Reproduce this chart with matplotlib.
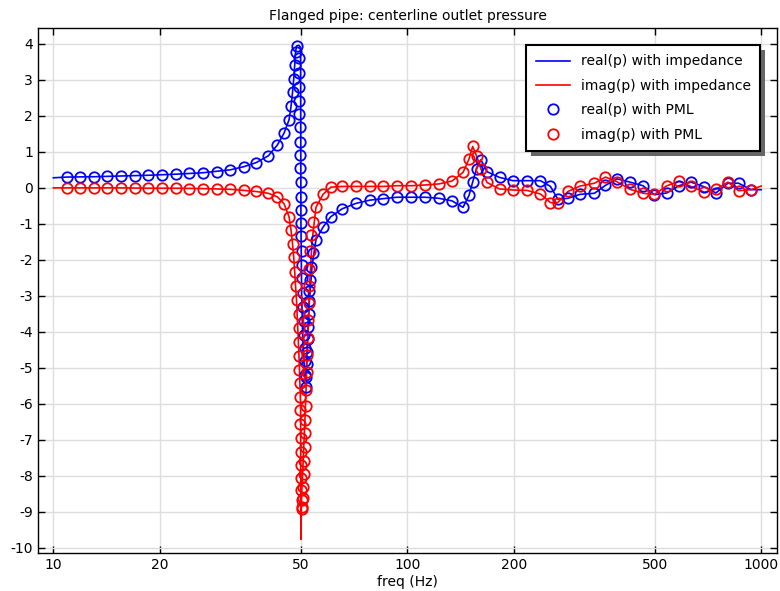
import numpy as np
import matplotlib
matplotlib.use('Agg')
import matplotlib.pyplot as plt
from matplotlib.ticker import FixedLocator, FixedFormatter, NullLocator
from matplotlib.patches import Rectangle
from matplotlib.transforms import IdentityTransform

plt.rcParams['font.family'] = ['DejaVu Sans']
plt.rcParams['axes.unicode_minus'] = False

# ---- impedance model (lines) ----
f_imp = [10, 10.91, 13.03, 15.54, 18.55, 22.17, 26.43, 31.56, 34.57, 37.38, 40.49,
         42.94, 44.85, 46.33, 46.94, 47.40, 47.77, 48.08, 48.33, 48.64, 49.4, 49.95,
         50.05, 50.3, 50.8, 51.6, 52.2, 52.9, 53.8, 55.2, 57.8, 60.8, 65.5, 71.63,
         78.45, 85.39, 93.52, 102.4, 112.2, 122.9, 133.7, 143.7, 149.4, 153.0, 156.9,
         161.5, 168.0, 182.2, 198.9, 217.8, 237.8, 253.8, 266.0, 284.4, 307.5, 338.0,
         363.0, 391.3, 425.7, 463.3, 499.3, 541.6, 585.7, 633.2, 690.2, 744.7, 805.2,
         862.9, 935.3, 1000]
re_imp = [0.28, 0.30, 0.31, 0.33, 0.35, 0.38, 0.42, 0.50, 0.59, 0.70, 0.89,
          1.19, 1.52, 1.89, 2.26, 2.65, 3.03, 3.42, 3.76, 3.94, 3.96, 3.90,
          -0.80, -3.00, -4.50, -5.52, -4.30, -3.15, -2.19, -1.44, -1.09, -0.80, -0.58, -0.43,
          -0.34, -0.30, -0.26, -0.26, -0.26, -0.29, -0.36, -0.54, -0.21, 0.16, 0.53,
          0.78, 0.45, 0.29, 0.20, 0.20, 0.20, 0.04, -0.31, -0.29, -0.18, -0.15,
          0.07, 0.25, 0.16, 0.06, -0.19, -0.14, 0.06, 0.16, 0.03, -0.14, 0.13,
          0.13, -0.05, -0.05]
im_imp = [0.00, 0.00, 0.00, 0.00, -0.01, -0.01, -0.02, -0.04, -0.07, -0.10, -0.15,
          -0.25, -0.44, -0.80, -1.17, -1.56, -1.93, -2.33, -2.72, -3.11, -4.60, -6.00,
          -9.76, -8.50, -7.60, -6.00, -4.50, -2.80, -1.50, -0.54, -0.18, 0.02, 0.04, 0.04,
          0.04, 0.04, 0.06, 0.06, 0.08, 0.11, 0.19, 0.43, 0.80, 1.15, 0.89,
          0.52, 0.15, -0.03, -0.06, -0.07, -0.17, -0.41, -0.41, -0.10, 0.05, 0.13,
          0.30, 0.17, -0.04, -0.15, -0.18, 0.06, 0.18, 0.04, -0.12, -0.04, 0.16,
          -0.08, -0.05, 0.05]

# ---- PML model (markers) ----
f_pml = [10.91, 11.90, 13.03, 14.21, 15.54, 17.01, 18.55, 20.32, 22.17, 24.22, 26.43,
         28.95, 31.56, 34.57, 37.38, 40.49, 42.94, 44.85, 46.33, 46.94, 47.40, 47.77,
         48.08, 48.33, 48.64,
         49.30, 49.37, 49.44, 49.51, 49.58, 49.65, 49.72, 49.79, 49.86, 49.93, 50.00,
         50.07, 50.14, 50.21, 50.28, 50.35,
         50.50, 50.65, 50.80, 50.95, 51.10, 51.25, 51.40, 51.55, 51.70,
         51.85, 52.00, 52.15, 52.30, 52.45, 52.60, 52.75, 52.90, 53.10, 53.60, 54.30,
         55.20, 57.80, 60.80, 65.50,
         71.63, 78.45, 85.39, 93.52, 102.4, 112.2, 122.9, 133.7, 143.7, 149.4, 153.0,
         156.9, 161.5, 168.0, 182.2, 198.9, 217.8, 237.8, 253.8, 266.0, 284.4, 307.5,
         338.0, 363.0, 391.3, 425.7, 463.3, 499.3, 541.6, 585.7, 633.2, 690.2, 744.7,
         805.2, 862.9, 935.3]
re_pml = [0.31, 0.31, 0.31, 0.32, 0.33, 0.34, 0.35, 0.36, 0.38, 0.40, 0.42,
          0.45, 0.50, 0.59, 0.70, 0.89, 1.19, 1.52, 1.89, 2.26, 2.65, 3.03,
          3.42, 3.76, 3.94,
          3.60, 3.20, 2.81, 2.40, 2.05, 1.69, 1.28, 0.92, 0.55, 0.17, -0.24,
          -0.61, -0.97, -1.35, -1.74, -2.14,
          -2.51, -2.91, -3.30, -3.71, -4.08, -4.45, -4.82, -5.19, -5.52,
          -5.25, -4.90, -4.55, -4.20, -3.85, -3.50, -3.15, -2.85, -2.56, -2.19, -1.80,
          -1.44, -1.09, -0.80, -0.58,
          -0.43, -0.34, -0.30, -0.26, -0.26, -0.26, -0.29, -0.36, -0.54, -0.21, 0.16,
          0.53, 0.78, 0.45, 0.29, 0.20, 0.20, 0.20, 0.04, -0.31, -0.29, -0.18,
          -0.15, 0.07, 0.25, 0.16, 0.06, -0.19, -0.14, 0.06, 0.16, 0.03, -0.14,
          0.13, 0.13, -0.05]
im_pml = [0.00, 0.00, 0.00, 0.00, 0.00, -0.01, -0.01, -0.01, -0.01, -0.02, -0.02,
          -0.03, -0.04, -0.07, -0.10, -0.15, -0.25, -0.44, -0.80, -1.17, -1.56, -1.93,
          -2.33, -2.72, -3.11,
          -3.50, -3.89, -4.29, -4.68, -5.06, -5.43, -5.80, -6.18, -6.56, -6.95, -7.33,
          -7.70, -8.05, -8.38, -8.66, -8.92,
          -8.85, -8.62, -8.30, -7.95, -7.58, -7.20, -6.82, -6.44, -6.06,
          -5.60, -5.12, -4.64, -4.16, -3.68, -3.20, -2.72, -2.24, -1.76, -1.31, -0.94,
          -0.54, -0.18, 0.02, 0.04,
          0.04, 0.04, 0.04, 0.06, 0.06, 0.08, 0.11, 0.19, 0.43, 0.80, 1.15,
          0.89, 0.52, 0.15, -0.03, -0.06, -0.07, -0.17, -0.41, -0.41, -0.10, 0.05,
          0.13, 0.30, 0.17, -0.04, -0.15, -0.18, 0.06, 0.18, 0.04, -0.12, -0.04,
          0.16, -0.08, -0.05]

xticks = [10, 20, 50, 100, 200, 500, 1000]
yticks = list(range(-10, 5))

fig = plt.figure(figsize=(7.8, 5.91), dpi=100)
ax = fig.add_axes([38/780, 1-553/591, (777-38)/780, (553-28)/591])

ax.plot(f_imp, re_imp, color='#0000ff', lw=1.2, label='real(p) with impedance')
ax.plot(f_imp, im_imp, color='#ff0000', lw=1.2, label='imag(p) with impedance')
ax.plot(f_pml, re_pml, ls='none', marker='o', ms=7.5, mfc='none', mec='#0000ff',
        mew=1.3, label='real(p) with PML')
ax.plot(f_pml, im_pml, ls='none', marker='o', ms=7.5, mfc='none', mec='#ff0000',
        mew=1.3, label='imag(p) with PML')

ax.set_xscale('log')
ax.set_xlim(9.05, 1108)
ax.set_ylim(-10.14, 4.44)
ax.xaxis.set_major_locator(FixedLocator(xticks))
ax.xaxis.set_major_formatter(FixedFormatter([str(t) for t in xticks]))
ax.xaxis.set_minor_locator(NullLocator())
ax.set_yticks(yticks)
ax.grid(True, color='#dedede', lw=1)
ax.set_axisbelow(True)
ax.tick_params(direction='in', length=5, width=1, top=True, right=True,
               labelsize=10, colors='black')
for s in ax.spines.values():
    s.set_color('black')
    s.set_linewidth(1)

ax.set_xlabel('freq (Hz)', fontsize=10, labelpad=2)
ax.set_title('Flanged pipe: centerline outlet pressure', fontsize=10, pad=6)

leg = ax.legend(loc='upper right', fontsize=10, numpoints=1, handlelength=2.4,
                labelspacing=0.75, borderaxespad=1.2, fancybox=False,
                framealpha=1, edgecolor='black', borderpad=0.7)
leg.get_frame().set_linewidth(1.5)

# grey drop shadow behind the legend box
fig.canvas.draw()
bb = leg.get_window_extent()
ax.add_patch(Rectangle((bb.x0 + 5, bb.y0 - 5), bb.width, bb.height,
                       transform=IdentityTransform(), facecolor='#666666',
                       edgecolor='none', zorder=4.9, clip_on=False))

fig.savefig('out.png', dpi=100)
